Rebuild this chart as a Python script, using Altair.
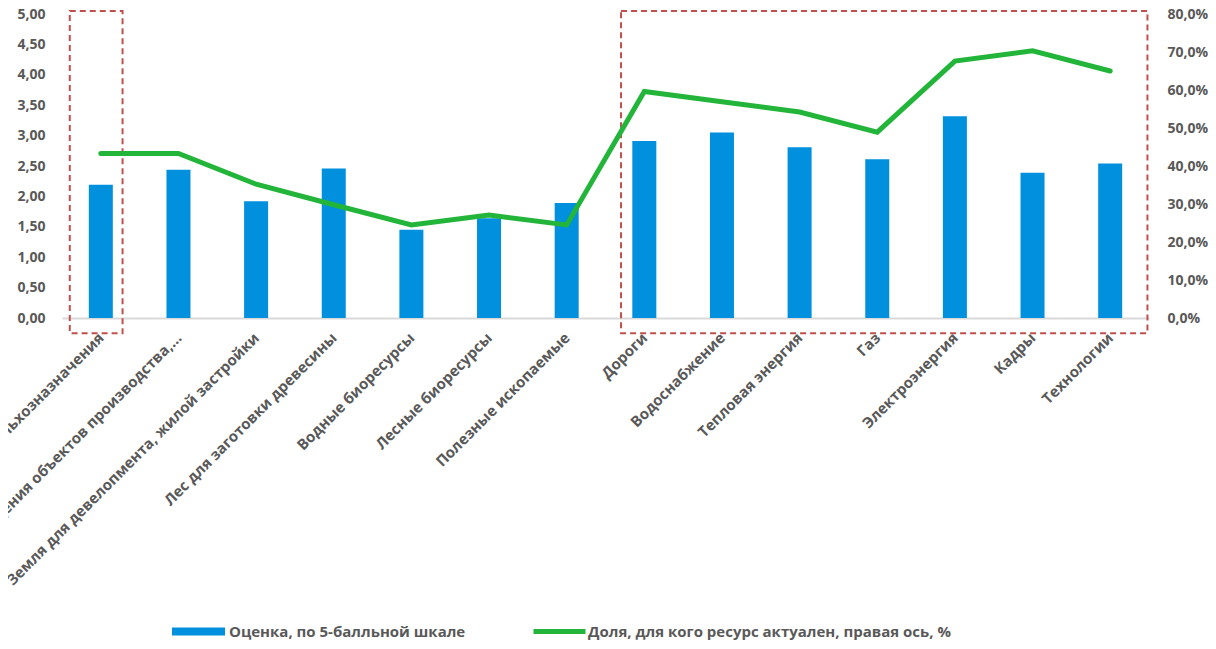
import json
import altair as alt
import pandas as pd

categories = [
    "Земля сельхозназначения",
    "Земля для размещения объектов производства,…",
    "Земля для девелопмента, жилой застройки",
    "Лес для заготовки древесины",
    "Водные биоресурсы",
    "Лесные биоресурсы",
    "Полезные ископаемые",
    "Дороги",
    "Водоснабжение",
    "Тепловая энергия",
    "Газ",
    "Электроэнергия",
    "Кадры",
    "Технологии",
]
scores = [2.19, 2.44, 1.92, 2.46, 1.45, 1.64, 1.89, 2.91, 3.05, 2.81, 2.61, 3.32, 2.39, 2.54]
shares = [43.3, 43.3, 35.2, 29.8, 24.5, 27.1, 24.5, 59.6, 56.9, 54.2, 48.9, 67.6, 70.3, 65.0]

bar_label = "Оценка, по 5-балльной шкале"
line_label = "Доля, для кого ресурс актуален, правая ось, %"

# highlight boxes (in category-index / score units)
box_x_start = [-0.40, 6.70]
box_x_end = [0.28, 13.48]
box_y_low = [-0.25, -0.25]
box_y_high = [5.05, 5.05]

left_ticks = [0, 0.5, 1, 1.5, 2, 2.5, 3, 3.5, 4, 4.5, 5]
right_ticks = [0, 10, 20, 30, 40, 50, 60, 70, 80]

BLUE = "#0090de"
GREEN = "#22b53a"
RED = "#c0504d"
GRAY = "#595959"
FONT = "Open Sans"

df = pd.DataFrame({
    "idx": list(range(len(categories))),
    "cat": categories,
    "score": scores,
    "share": shares,
    "s_bar": bar_label,
    "s_line": line_label,
})
boxes = pd.DataFrame({"x1": box_x_start, "x2": box_x_end, "y1": box_y_low, "y2": box_y_high})

x_scale = alt.Scale(domain=[-0.5, len(categories) - 0.5], nice=False, zero=False, padding=0)
x_axis = alt.Axis(
    values=list(range(len(categories))),
    labelExpr=json.dumps(categories, ensure_ascii=False) + "[datum.value]",
    labelAngle=-45, labelAlign="right", labelBaseline="middle",
    labelPadding=17, labelFont=FONT, labelFontSize=15, labelFontWeight="bold",
    labelColor=GRAY, labelOverlap=False, labelLimit=0, labelFlush=False,
    ticks=False, grid=False, domainColor="#d9d9d9", domainWidth=2, title=None,
)
y_left_axis = alt.Axis(
    values=left_ticks, labelExpr="replace(format(datum.value, '.2f'), '.', ',')",
    labelFont=FONT, labelFontSize=14, labelFontWeight="bold", labelColor=GRAY,
    labelPadding=17, ticks=False, domain=False, grid=False, title=None,
)
y_left_scale = alt.Scale(domain=[0, 5], nice=False, padding=0)

base = alt.Chart(df)

bars = base.mark_bar(size=24).encode(
    x=alt.X("idx:Q", scale=x_scale, axis=x_axis),
    y=alt.Y("score:Q", scale=y_left_scale, axis=y_left_axis),
    color=alt.Color("s_bar:N", scale=alt.Scale(domain=[bar_label], range=[BLUE]),
                    legend=alt.Legend(
                        title=None, orient="none", legendX=110, legendY=591,
                        symbolType="M-1,-0.15H1V0.15H-1Z", symbolSize=2809,
                        symbolStrokeWidth=0, padding=0, labelLimit=500,
                        labelFont=FONT, labelFontSize=15, labelFontWeight="bold",
                        labelColor=GRAY, labelOffset=4)),
)

box_layer = alt.Chart(boxes).mark_rect(
    fill=None, stroke=RED, strokeWidth=2, strokeDash=[6, 4], fillOpacity=0
).encode(
    x=alt.X("x1:Q", scale=x_scale, axis=x_axis),
    x2="x2:Q",
    y=alt.Y("y1:Q", scale=y_left_scale, axis=y_left_axis),
    y2="y2:Q",
)

line = base.mark_line(strokeWidth=5, strokeCap="round", strokeJoin="miter").encode(
    x=alt.X("idx:Q", scale=x_scale, axis=x_axis),
    y=alt.Y("share:Q", scale=alt.Scale(domain=[0, 80], nice=False, padding=0),
            axis=alt.Axis(values=right_ticks, orient="right",
                          labelExpr="replace(format(datum.value, '.1f'), '.', ',') + '%'",
                          labelFont=FONT, labelFontSize=14, labelFontWeight="bold",
                          labelColor=GRAY, labelPadding=18, ticks=False, domain=False,
                          grid=False, title=None)),
    stroke=alt.Stroke("s_line:N", scale=alt.Scale(domain=[line_label], range=[GREEN]),
                      legend=alt.Legend(
                          title=None, orient="none", legendX=469, legendY=589,
                          symbolType="stroke", symbolSize=2704, symbolStrokeWidth=5,
                          padding=0, labelLimit=500, labelFont=FONT, labelFontSize=15,
                          labelFontWeight="bold", labelColor=GRAY, labelOffset=0)),
)

left = alt.layer(bars, box_layer)
chart = alt.layer(left, line).resolve_scale(y="independent").properties(
    width=1087, height=304,
    autosize=alt.AutoSizeParams(type="none"),
    padding={"left": 54, "top": 6, "right": 59, "bottom": 323},
).configure_view(stroke=None)

chart.save("out.html", embed_options={"renderer": "svg", "actions": False})
